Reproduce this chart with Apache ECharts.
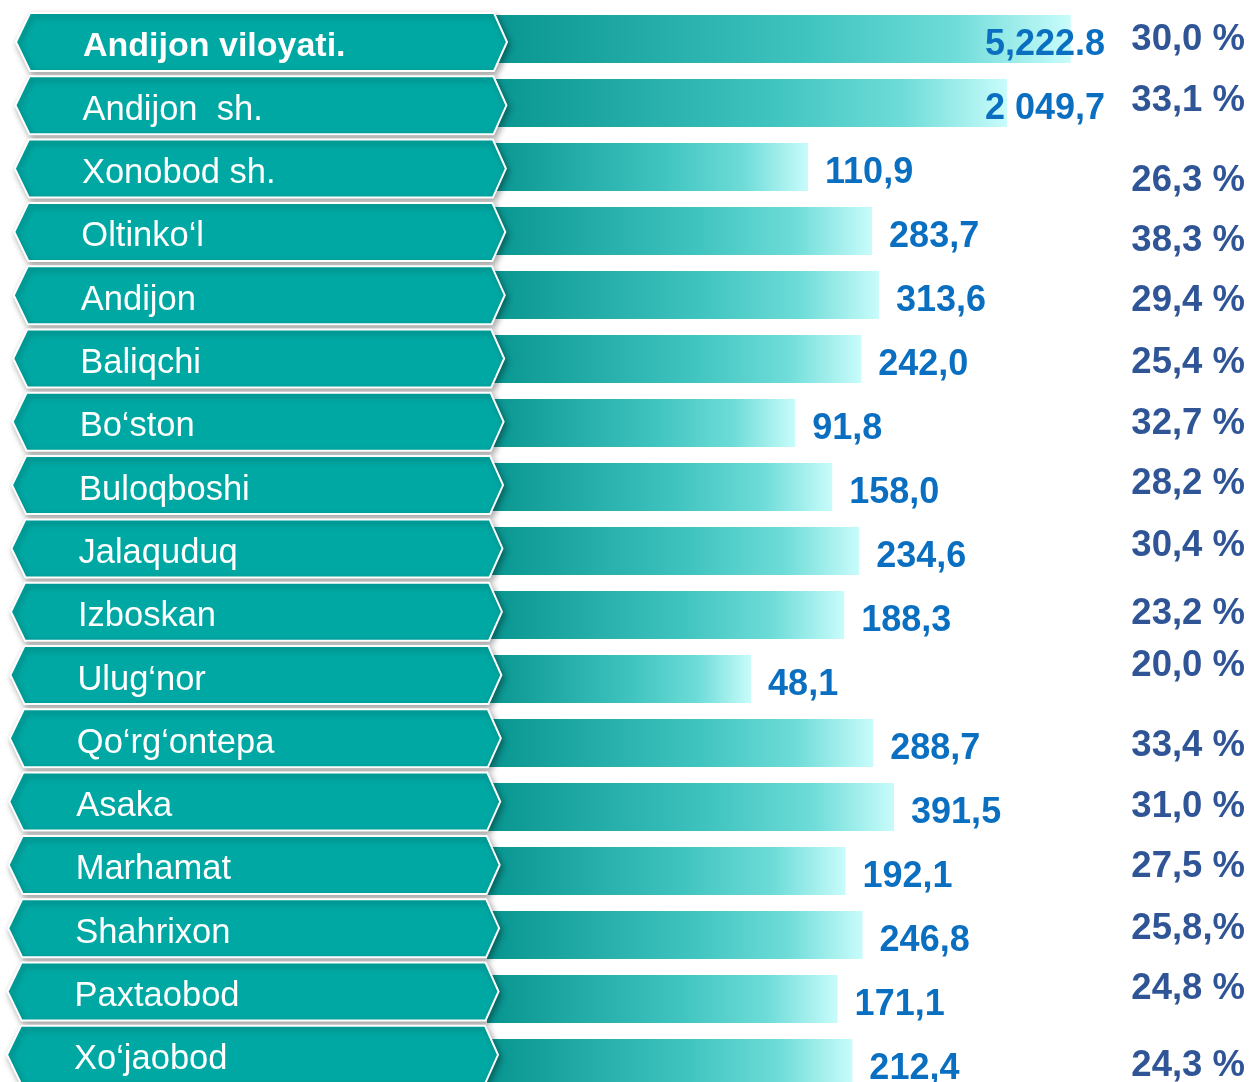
<!DOCTYPE html>
<html>
<head>
<meta charset="utf-8">
<script src="https://cdn.jsdelivr.net/npm/echarts@6/dist/echarts.min.js"></script>
<style>
  html, body { margin: 0; padding: 0; background: #fff; overflow: hidden; }
  /* slightly taller than the window: the last row is cut off like in the slide */
  #main { width: 1250px; height: 1100px; }
</style>
</head>
<body>
<div id="main"></div>
<script>
// rows, top to bottom
const regions = ['Andijon viloyati.', 'Andijon  sh.', 'Xonobod sh.', 'Oltinko‘l', 'Andijon', 'Baliqchi',
  'Bo‘ston', 'Buloqboshi', 'Jalaquduq', 'Izboskan', 'Ulug‘nor', 'Qo‘rg‘ontepa', 'Asaka',
  'Marhamat', 'Shahrixon', 'Paxtaobod', 'Xo‘jaobod'];
const values = [5222.8, 2049.7, 110.9, 283.7, 313.6, 242.0, 91.8, 158.0, 234.6, 188.3, 48.1,
  288.7, 391.5, 192.1, 246.8, 171.1, 212.4];
const valueLabels = ['5,222.8', '2 049,7', '110,9', '283,7', '313,6', '242,0', '91,8', '158,0', '234,6',
  '188,3', '48,1', '288,7', '391,5', '192,1', '246,8', '171,1', '212,4'];
const shares = ['30,0 %', '33,1 %', '26,3 %', '38,3 %', '29,4 %', '25,4 %', '32,7 %', '28,2 %', '30,4 %',
  '23,2 %', '20,0 %', '33,4 %', '31,0 %', '27,5 %', '25,8,%', '24,8 %', '24,3 %'];

// layout only: small vertical nudges of the share column as in the slide
const shareNudge = [-2, -5, 11, 7, 3, 1, -2, -6, -8, -4, -16, 0, -3, -7, -9, -13, 0];

const FONT = '"Liberation Sans", Arial, sans-serif';
const chart = echarts.init(document.getElementById('main'));

function bannerItem(params, api) {
  const i = params.dataIndex;
  const yc = api.coord([1, i])[1] + 3 - 0.7 * i;
  const L = 16 - 9 * i / 16;
  const R = 507 - 9 * i / 16;
  const h = 29;
  return {
    type: 'group',
    children: [{
      type: 'polygon',
      shape: { points: [[L, yc], [L + 14, yc - h], [R - 13, yc - h], [R, yc], [R - 13, yc + h], [L + 14, yc + h]] },
      style: {
        fill: '#00a8a3', stroke: '#ffffff', lineWidth: 2,
        shadowBlur: 6, shadowColor: 'rgba(0,0,0,0.35)', shadowOffsetX: 2, shadowOffsetY: 3
      }
    }, {
      type: 'text',
      x: L + 67, y: yc + 5,
      style: {
        text: regions[i], fill: '#ffffff',
        font: (i === 0 ? 'bold 34px ' : '34.5px ') + FONT,
        verticalAlign: 'middle', align: 'left'
      }
    }]
  };
}

function labelItem(params, api) {
  const i = params.dataIndex;
  const p = api.coord([api.value(0), i]);
  let x = p[0] + 17, align = 'left';
  if (x > 960) { x = 1105; align = 'right'; }
  return {
    type: 'group',
    children: [{
      type: 'text', x: x, y: p[1] + 6,
      style: {
        text: valueLabels[i], fill: '#0a6fc0',
        font: 'bold 36px ' + FONT,
        align: align, verticalAlign: 'middle'
      }
    }, {
      type: 'text', x: 1245, y: p[1] + shareNudge[i] + 3,
      style: {
        text: shares[i], fill: '#2f5597',
        font: 'bold 36.5px ' + FONT,
        align: 'right', verticalAlign: 'middle'
      }
    }]
  };
}

const option = {
  animation: false,
  grid: { left: 487, width: 628, top: 7, height: 1088 },
  xAxis: { type: 'log', logBase: 10, min: 1, max: 10000, show: false },
  yAxis: { type: 'category', data: regions, inverse: true, show: false },
  series: [{
    type: 'bar',
    data: values,
    barWidth: 48,
    z: 2,
    itemStyle: {
      color: new echarts.graphic.LinearGradient(0, 0, 1, 0, [
        { offset: 0, color: '#07948f' },
        { offset: 0.55, color: '#40c4c0' },
        { offset: 0.8, color: '#6edcd8' },
        { offset: 1, color: '#c8fcfb' }
      ])
    }
  }, {
    type: 'custom',
    z: 5,
    data: regions.map((r, i) => [1, i]),
    encode: { x: 0, y: 1 },
    renderItem: bannerItem
  }, {
    type: 'custom',
    z: 6,
    data: values.map((v, i) => [v, i]),
    encode: { x: 0, y: 1 },
    renderItem: labelItem
  }]
};

chart.setOption(option);
</script>
</body>
</html>
